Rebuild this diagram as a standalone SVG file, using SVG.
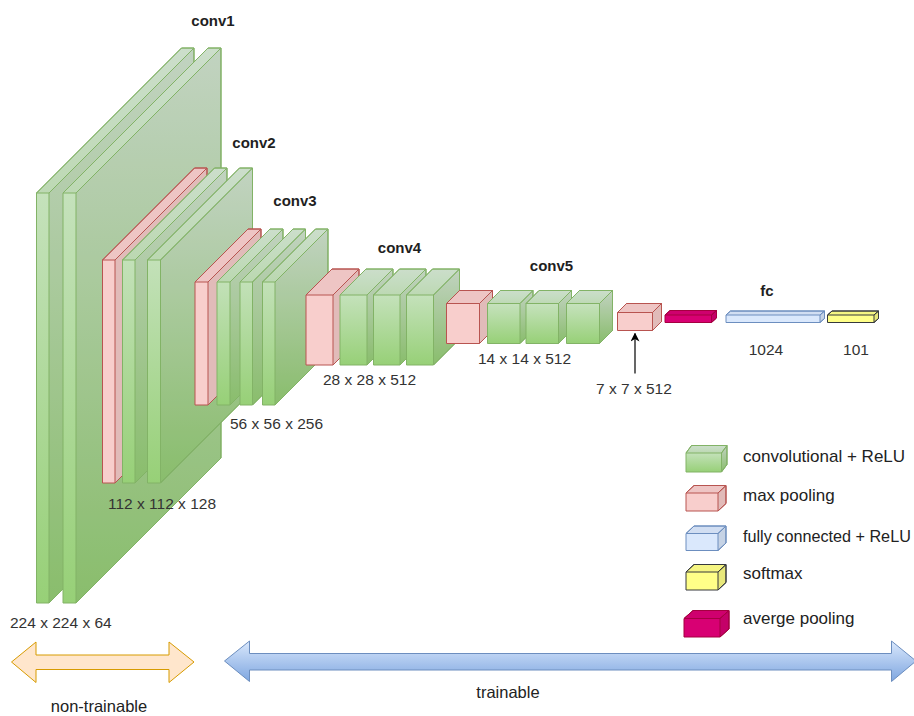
<svg xmlns="http://www.w3.org/2000/svg" width="914" height="716" viewBox="0 0 914 716">
<defs>
<linearGradient id="gGreen" x1="0" y1="0" x2="0" y2="1"><stop offset="0" stop-color="#d5e8d4"/><stop offset="1" stop-color="#97d077"/></linearGradient>
<linearGradient id="gBlueArrow" x1="0" y1="0" x2="0" y2="1"><stop offset="0" stop-color="#dae8fc"/><stop offset="1" stop-color="#7ea6e0"/></linearGradient>
<marker id="arr" viewBox="0 0 10 10" refX="9" refY="5" markerWidth="9" markerHeight="9" markerUnits="userSpaceOnUse" orient="auto"><path d="M0,0 L10,5 L0,10 L3,5 Z" fill="#000"/></marker>
<style>
.o,.s,.t{stroke-width:1;stroke-linejoin:miter}
.s{fill:#000;fill-opacity:.09}
.t{fill:#000;fill-opacity:.04}
.green .o{fill:url(#gGreen)}
.green path{stroke:#82b366}
.red .o{fill:#f8cecc}
.red path{stroke:#b85450}
.blue .o{fill:#dae8fc}
.blue path{stroke:#6c8ebf}
.yellow .o{fill:#ffff88}
.yellow path{stroke:#36393d}
.mag .o{fill:#d80073}
.mag path{stroke:#a50040}
text{font-family:"Liberation Sans",Arial,sans-serif;fill:#333}
.lbl{font-size:15px;font-weight:bold;fill:#1f1f1f}
.dim{font-size:15.5px}
.leg{font-size:17px;fill:#222}
.bar{font-size:16.5px;fill:#222}
</style>
</defs>

<g id="conv1">
<g id="conv1_1" class="green"><path class="o" d="M36.5,193 L181.5,48 L194,48 L194,458 L49,603 L36.5,603 Z"/><path class="s" d="M49,193 L194,48 L194,458 L49,603 Z"/><path class="t" d="M36.5,193 L181.5,48 L194,48 L49,193 Z"/></g>
<g id="conv1_2" class="green"><path class="o" d="M63,193 L208,48 L221,48 L221,458 L76,603 L63,603 Z"/><path class="s" d="M76,193 L221,48 L221,458 L76,603 Z"/><path class="t" d="M63,193 L208,48 L221,48 L76,193 Z"/></g>
</g>

<g id="conv2">
<g id="pool1" class="red"><path class="o" d="M102.5,260 L194.5,168 L207,168 L207,391 L115,483 L102.5,483 Z"/><path class="s" d="M115,260 L207,168 L207,391 L115,483 Z"/><path class="t" d="M102.5,260 L194.5,168 L207,168 L115,260 Z"/></g>
<g id="conv2_1" class="green"><path class="o" d="M122.5,260 L214.5,168 L227,168 L227,391 L135,483 L122.5,483 Z"/><path class="s" d="M135,260 L227,168 L227,391 L135,483 Z"/><path class="t" d="M122.5,260 L214.5,168 L227,168 L135,260 Z"/></g>
<g id="conv2_2" class="green"><path class="o" d="M147.5,260 L239.5,168 L252.5,168 L252.5,391 L160.5,483 L147.5,483 Z"/><path class="s" d="M160.5,260 L252.5,168 L252.5,391 L160.5,483 Z"/><path class="t" d="M147.5,260 L239.5,168 L252.5,168 L160.5,260 Z"/></g>
</g>

<g id="conv3">
<g id="pool2" class="red"><path class="o" d="M195,282 L248,229 L261,229 L261,352 L208,405 L195,405 Z"/><path class="s" d="M208,282 L261,229 L261,352 L208,405 Z"/><path class="t" d="M195,282 L248,229 L261,229 L208,282 Z"/></g>
<g id="conv3_1" class="green"><path class="o" d="M217,282 L270,229 L283,229 L283,352 L230,405 L217,405 Z"/><path class="s" d="M230,282 L283,229 L283,352 L230,405 Z"/><path class="t" d="M217,282 L270,229 L283,229 L230,282 Z"/></g>
<g id="conv3_2" class="green"><path class="o" d="M240,282 L293,229 L305.5,229 L305.5,352 L252.5,405 L240,405 Z"/><path class="s" d="M252.5,282 L305.5,229 L305.5,352 L252.5,405 Z"/><path class="t" d="M240,282 L293,229 L305.5,229 L252.5,282 Z"/></g>
<g id="conv3_3" class="green"><path class="o" d="M262.5,282 L315.5,229 L328,229 L328,352 L275,405 L262.5,405 Z"/><path class="s" d="M275,282 L328,229 L328,352 L275,405 Z"/><path class="t" d="M262.5,282 L315.5,229 L328,229 L275,282 Z"/></g>
</g>

<g id="conv4">
<g id="pool3" class="red"><path class="o" d="M306,295 L332,269 L359,269 L359,339 L333,365 L306,365 Z"/><path class="s" d="M333,295 L359,269 L359,339 L333,365 Z"/><path class="t" d="M306,295 L332,269 L359,269 L333,295 Z"/></g>
<g id="conv4_1" class="green"><path class="o" d="M340,295 L366,269 L393,269 L393,339 L367,365 L340,365 Z"/><path class="s" d="M367,295 L393,269 L393,339 L367,365 Z"/><path class="t" d="M340,295 L366,269 L393,269 L367,295 Z"/></g>
<g id="conv4_2" class="green"><path class="o" d="M373.5,295 L399.5,269 L426,269 L426,339 L400,365 L373.5,365 Z"/><path class="s" d="M400,295 L426,269 L426,339 L400,365 Z"/><path class="t" d="M373.5,295 L399.5,269 L426,269 L400,295 Z"/></g>
<g id="conv4_3" class="green"><path class="o" d="M406.5,295 L432.5,269 L459.5,269 L459.5,339 L433.5,365 L406.5,365 Z"/><path class="s" d="M433.5,295 L459.5,269 L459.5,339 L433.5,365 Z"/><path class="t" d="M406.5,295 L432.5,269 L459.5,269 L433.5,295 Z"/></g>
</g>

<g id="conv5">
<g id="pool4" class="red"><path class="o" d="M446.5,303.5 L459.5,290.5 L492.5,290.5 L492.5,330.5 L479.5,343.5 L446.5,343.5 Z"/><path class="s" d="M479.5,303.5 L492.5,290.5 L492.5,330.5 L479.5,343.5 Z"/><path class="t" d="M446.5,303.5 L459.5,290.5 L492.5,290.5 L479.5,303.5 Z"/></g>
<g id="conv5_1" class="green"><path class="o" d="M487.5,303.5 L500.5,290.5 L533,290.5 L533,330.5 L520,343.5 L487.5,343.5 Z"/><path class="s" d="M520,303.5 L533,290.5 L533,330.5 L520,343.5 Z"/><path class="t" d="M487.5,303.5 L500.5,290.5 L533,290.5 L520,303.5 Z"/></g>
<g id="conv5_2" class="green"><path class="o" d="M526,303.5 L539,290.5 L571.5,290.5 L571.5,330.5 L558.5,343.5 L526,343.5 Z"/><path class="s" d="M558.5,303.5 L571.5,290.5 L571.5,330.5 L558.5,343.5 Z"/><path class="t" d="M526,303.5 L539,290.5 L571.5,290.5 L558.5,303.5 Z"/></g>
<g id="conv5_3" class="green"><path class="o" d="M566.5,303.5 L579.5,290.5 L612.5,290.5 L612.5,330.5 L599.5,343.5 L566.5,343.5 Z"/><path class="s" d="M599.5,303.5 L612.5,290.5 L612.5,330.5 L599.5,343.5 Z"/><path class="t" d="M566.5,303.5 L579.5,290.5 L612.5,290.5 L599.5,303.5 Z"/></g>
</g>

<g id="pool5" class="red"><path class="o" d="M617.5,312.5 L626.5,303.5 L661.5,303.5 L661.5,321.5 L652.5,330.5 L617.5,330.5 Z"/><path class="s" d="M652.5,312.5 L661.5,303.5 L661.5,321.5 L652.5,330.5 Z"/><path class="t" d="M617.5,312.5 L626.5,303.5 L661.5,303.5 L652.5,312.5 Z"/></g>
<g id="avgpool" class="mag"><path class="o" d="M665,315 L670,310.5 L716.5,310.5 L716.5,318 L711.5,322.5 L665,322.5 Z"/><path class="s" d="M711.5,315 L716.5,310.5 L716.5,318 L711.5,322.5 Z"/><path class="t" d="M665,315 L670,310.5 L716.5,310.5 L711.5,315 Z"/></g>
<g id="fc1024" class="blue"><path class="o" d="M726,315 L730.5,311 L824.5,311 L824.5,318.5 L820,322.5 L726,322.5 Z"/><path class="s" d="M820,315 L824.5,311 L824.5,318.5 L820,322.5 Z"/><path class="t" d="M726,315 L730.5,311 L824.5,311 L820,315 Z"/></g>
<g id="softmax101" class="yellow"><path class="o" d="M827.5,315 L832,311 L878.5,311 L878.5,318.5 L874,322.5 L827.5,322.5 Z"/><path class="s" d="M874,315 L878.5,311 L878.5,318.5 L874,322.5 Z"/><path class="t" d="M827.5,315 L832,311 L878.5,311 L874,315 Z"/></g>

<g id="labels">
<text class="lbl" x="213" y="26" text-anchor="middle">conv1</text>
<text class="lbl" x="254" y="147.5" text-anchor="middle">conv2</text>
<text class="lbl" x="295" y="206" text-anchor="middle">conv3</text>
<text class="lbl" x="399.5" y="252.5" text-anchor="middle">conv4</text>
<text class="lbl" x="551.5" y="270.5" text-anchor="middle">conv5</text>
<text class="lbl" x="767" y="296" text-anchor="middle">fc</text>
<text class="dim" x="10" y="627.5">224 x 224 x 64</text>
<text class="dim" x="108" y="509">112 x 112 x 128</text>
<text class="dim" x="230" y="428.5">56 x 56 x 256</text>
<text class="dim" x="323" y="385">28 x 28 x 512</text>
<text class="dim" x="478" y="364">14 x 14 x 512</text>
<text class="dim" x="596" y="394">7 x 7 x 512</text>
<text class="dim" x="766" y="354.5" text-anchor="middle">1024</text>
<text class="dim" x="856" y="354.5" text-anchor="middle">101</text>
</g>

<g id="connectors">
<line x1="635" y1="373.5" x2="635" y2="333.5" stroke="#000" stroke-width="1.2" marker-end="url(#arr)"/>
</g>

<g id="legend">
<g id="leg_conv" class="green"><path class="o" d="M686,453 L691.5,445.5 L727,445.5 L727,464.5 L721.5,472 L686,472 Z"/><path class="s" d="M721.5,453 L727,445.5 L727,464.5 L721.5,472 Z"/><path class="t" d="M686,453 L691.5,445.5 L727,445.5 L721.5,453 Z"/></g>
<text class="leg" x="743" y="461.5">convolutional + ReLU</text>
<g id="leg_pool" class="red"><path class="o" d="M686,493 L694,485.5 L726,485.5 L726,503.5 L718,511 L686,511 Z"/><path class="s" d="M718,493 L726,485.5 L726,503.5 L718,511 Z"/><path class="t" d="M686,493 L694,485.5 L726,485.5 L718,493 Z"/></g>
<text class="leg" x="743" y="501">max pooling</text>
<g id="leg_fc" class="blue"><path class="o" d="M686,533.5 L694,526 L726,526 L726,543 L718,550.5 L686,550.5 Z"/><path class="s" d="M718,533.5 L726,526 L726,543 L718,550.5 Z"/><path class="t" d="M686,533.5 L694,526 L726,526 L718,533.5 Z"/></g>
<text class="leg" x="743" y="542" style="font-size:16.2px">fully connected + ReLU</text>
<g id="leg_softmax" class="yellow"><path class="o" d="M686,572 L694,564.5 L726,564.5 L726,582.5 L718,590 L686,590 Z"/><path class="s" d="M718,572 L726,564.5 L726,582.5 L718,590 Z"/><path class="t" d="M686,572 L694,564.5 L726,564.5 L718,572 Z"/></g>
<text class="leg" x="743" y="579">softmax</text>
<g id="leg_avg" class="mag"><path class="o" d="M684,618.5 L693,610.5 L729,610.5 L729,629 L720,637 L684,637 Z"/><path class="s" d="M720,618.5 L729,610.5 L729,629 L720,637 Z"/><path class="t" d="M684,618.5 L693,610.5 L729,610.5 L720,618.5 Z"/></g>
<text class="leg" x="743" y="624">averge pooling</text>
</g>

<g id="nontrainable">
<path d="M11.5,662 L36,642 L36,655 L169,655 L169,642 L194,662 L169,682.5 L169,669.5 L36,669.5 L36,682.5 Z" fill="#ffe6cc" stroke="#d79b00" stroke-width="1"/>
<text class="bar" x="99" y="712" text-anchor="middle">non-trainable</text>
</g>
<g id="trainable">
<path d="M224.5,661 L249.5,641 L249.5,653.5 L891.5,653.5 L891.5,641 L916,661 L891.5,681.5 L891.5,670 L249.5,670 L249.5,681.5 Z" fill="url(#gBlueArrow)" stroke="#6c8ebf" stroke-width="1"/>
<text class="bar" x="508" y="698" text-anchor="middle">trainable</text>
</g>
</svg>
